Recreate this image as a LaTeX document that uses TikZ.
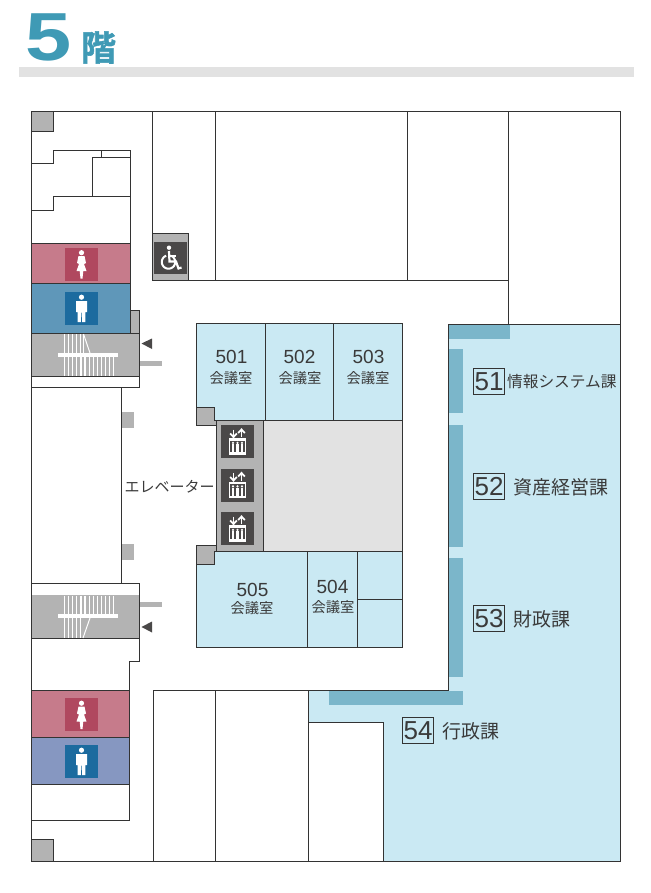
\documentclass[tikz,border=0pt]{standalone}
\usepackage{fontspec}
\usetikzlibrary{positioning}
\setmainfont{Liberation Sans}
\newfontfamily\jpfont{Noto Sans CJK JP}
\newfontfamily\jpheavy[FakeBold=1.5]{Noto Sans CJK JP Bold}
\definecolor{wallc}{HTML}{333333}
\definecolor{textc}{HTML}{3A3A3A}
\definecolor{titlec}{HTML}{3F9AB5}
\definecolor{barc}{HTML}{E2E2E2}
\definecolor{stairc}{HTML}{B3B3B3}
\definecolor{roomc}{HTML}{CAE9F3}
\definecolor{stripc}{HTML}{7BB6CA}
\definecolor{ladyc}{HTML}{C67B8B}
\definecolor{ladyboxc}{HTML}{B0485F}
\definecolor{mentopc}{HTML}{5F97B9}
\definecolor{menbotc}{HTML}{8697C1}
\definecolor{menboxc}{HTML}{1C6B9F}
\definecolor{iconc}{HTML}{4A4848}
\tikzset{
  wall/.style={draw=wallc,line width=1pt},
  roomnum/.style={inner sep=0pt,text=textc,font=\fontsize{19}{19}\selectfont},
  roomuse/.style={inner sep=0pt,text=textc,font=\jpfont\fontsize{14.3}{15}\selectfont},
  deptnum/.style={draw=wallc,line width=0.8pt,inner sep=0pt,text=textc,minimum width=31pt,minimum height=25.5pt,font=\fontsize{26}{26}\selectfont},
  deptname/.style={inner sep=0pt,text=textc,font=\jpfont\fontsize{19}{19}\selectfont},
  lady/.pic={
    \fill [ladyboxc] (-16.5,-16.5) rectangle (16.5,16.5);
    \fill [white] (0,-11.3) circle (2.6);
    \fill [white] (-3,-8) -- (3,-8) -- (4.5,-1) -- (2.5,0) -- (5,7) -- (1.8,7) -- (1,14.5) -- (-1,14.5) -- (-1.8,7) -- (-5,7) -- (-2.5,0) -- (-4.5,-1) -- cycle;
  },
  gent/.pic={
    \fill [menboxc] (-16.5,-16.5) rectangle (16.5,16.5);
    \fill [white] (0,-11.3) circle (2.6);
    \fill [white] (-5.5,-7.5) -- (5.5,-7.5) -- (5.5,3.5) -- (3.8,3.5) -- (3.8,13.5) -- (0.6,13.5) -- (0.4,4) -- (-0.4,4) -- (-0.6,13.5) -- (-3.8,13.5) -- (-3.8,3.5) -- (-5.5,3.5) -- cycle;
  },
  liftcar/.pic={
    \fill [iconc] (-16.5,-16.5) rectangle (16.5,16.5);
    \draw [white,line width=1.4pt] (-8,-2.5) rectangle (8,12.5);
    \fill [white] (-8,-3) rectangle (8,-0.8);
    \fill [white] (-8,10.5) rectangle (8,13);
    \foreach \px in {-4.5,0,4.5} {
      \fill [white] (\px,1.4) circle (1.2);
      \fill [white] (\px-1.4,2.6) rectangle (\px+1.4,10.5);
    }
    \draw [white,line width=1.8pt] (-4,-12) -- (-4,-5.5);
    \draw [white,line width=1.8pt] (-7.3,-8) -- (-4,-4.5) -- (-0.7,-8);
    \draw [white,line width=1.8pt] (4,-4.5) -- (4,-11);
    \draw [white,line width=1.8pt] (0.7,-8.5) -- (4,-12) -- (7.3,-8.5);
  },
  wheelseat/.pic={
    \fill [iconc] (-16.5,-16) rectangle (16.5,16);
    \fill [white] (-1.5,-10.3) circle (2.2);
    \draw [white,line width=2pt] plot [smooth,domain=-60:250,samples=30] ({-2+6.7*cos(\x)},{4+6.7*sin(\x)});
    \draw [white,line width=2.2pt] (-1.5,-7) -- (-1,3.5) -- (5.5,3.5) -- (8,10.5) -- (11,9.5);
    \draw [white,line width=1.8pt] (-1.2,-2) -- (5,-2);
  },
}
\begin{document}
\begin{tikzpicture}[x=1pt,y=-1pt]
\useasboundingbox (0,0) rectangle (650,893);
\node (fivechar) [inner sep=0pt,text=titlec] at (49,37.5) {\scalebox{1.22}[1]{\fontsize{68}{68}\selectfont\bfseries 5}};
\node (floorchar) [inner sep=0pt,text=titlec,font=\jpheavy\fontsize{35}{35}\selectfont] at (98.5,47.5) {階};
\fill [barc] (19,67) rectangle (634,77);

\fill [roomc] (448.5,324) -- (620,324) -- (620,861) -- (383.5,861) -- (383.5,722) -- (308.5,722) -- (308.5,690.5) -- (448.5,690.5) -- cycle;
\fill [stripc] (448.5,324.5) rectangle (510,339);
\fill [stripc] (449,349) rectangle (463,413);
\fill [stripc] (449,425) rectangle (463,547);
\fill [stripc] (449,558) rectangle (463,677);
\fill [stripc] (329,691) rectangle (463,705);

\draw [wall] (31.5,111.5) rectangle (620.5,861);

\draw [wall,fill=stairc] (31.5,111.5) rectangle (53.5,132);
\draw [wall] (31.5,163.5) -- (53.5,163.5) -- (53.5,150.5) -- (130.5,150.5) -- (130.5,243);
\draw [wall] (101.5,150.5) -- (101.5,158);
\draw [wall] (130.5,158) -- (92.5,158) -- (92.5,196.5);
\draw [wall] (130.5,196.5) -- (53.5,196.5) -- (53.5,211) -- (31.5,211);

\draw [wall,fill=ladyc] (31.5,243) rectangle (130.5,283.5);
\draw [wall,fill=mentopc] (31.5,283.5) rectangle (130.5,333);
\pic at (81.5,264) {lady};
\pic at (81.5,308.5) {gent};

\fill [stairc] (130.5,310) rectangle (139.5,333);
\fill [stairc] (31.5,333) rectangle (139.5,376.5);
\draw [wall] (130.5,310) -- (139.5,310) -- (139.5,387.5) -- (31.5,387.5);
\draw [wall] (31.5,333) -- (139.5,333);
\draw [wall] (31.5,376.5) -- (139.5,376.5);
\foreach \tx in {64.5,68.5,72.5,76.5,80.5,83.5}
  \draw [white,line width=1.2pt] (\tx,334) -- (\tx,353);
\foreach \tx in {64.5,68.6,...,114}
  \draw [white,line width=1.2pt] (\tx,357) -- (\tx,376);
\draw [white,line width=1pt] (83.5,334) -- (90,353);
\fill [white] (58,353.3) rectangle (118,357);
\fill [iconc] (141.5,343.5) -- (152,338.5) -- (152,349) -- cycle;
\fill [stairc] (139.5,361) rectangle (162,366);

\draw [wall] (121.5,387.5) -- (121.5,583.5);
\fill [stairc] (122,412) rectangle (134,428);
\fill [stairc] (122,544) rectangle (134,560);

\fill [stairc] (31.5,595) rectangle (139.5,638.5);
\draw [wall] (31.5,583.5) -- (139.5,583.5) -- (139.5,661) -- (129.5,661) -- (129.5,820) -- (31.5,820);
\draw [wall] (31.5,638.5) -- (139.5,638.5);
\foreach \tx in {64.5,68.6,...,114}
  \draw [white,line width=1.2pt] (\tx,595.5) -- (\tx,614);
\foreach \tx in {64.5,68.5,72.5,76.5,80.5}
  \draw [white,line width=1.2pt] (\tx,618) -- (\tx,638);
\draw [white,line width=1pt] (90,618) -- (83,638);
\fill [white] (58,614) rectangle (118,618);
\fill [iconc] (141.5,627) -- (152,621.5) -- (152,632.5) -- cycle;
\fill [stairc] (139.5,602) rectangle (162,607);

\draw [wall,fill=ladyc] (31.5,690.5) rectangle (129.5,737.5);
\draw [wall,fill=menbotc] (31.5,737.5) rectangle (129.5,784.5);
\pic at (81.5,714.5) {lady};
\pic at (81.5,761.5) {gent};
\draw [wall,fill=stairc] (31.5,839.5) rectangle (53.5,861);

\draw [wall] (152.5,111.5) -- (152.5,280) -- (508,280);
\draw [wall] (215.5,111.5) -- (215.5,280);
\draw [wall] (407.5,111.5) -- (407.5,280);
\draw [wall] (508,111.5) -- (508,324);
\draw [wall,fill=stairc] (152.5,234) rectangle (188.5,280);
\pic at (170.5,258) {wheelseat};

\draw [wall] (620.5,324) -- (448.5,324) -- (448.5,690.5) -- (153,690.5) -- (153,861);
\draw [wall] (215.5,690.5) -- (215.5,861);
\draw [wall] (308.5,690.5) -- (308.5,861);
\draw [wall] (308.5,722) -- (383.5,722) -- (383.5,861);

\draw [wall,fill=roomc] (196.5,323.5) rectangle (265.5,420.5);
\draw [wall,fill=roomc] (265.5,323.5) rectangle (333.5,420.5);
\draw [wall,fill=roomc] (333.5,323.5) rectangle (402.5,420.5);
\draw [wall,fill=barc] (263.5,420.5) rectangle (402.5,551);
\draw [wall,fill=stairc] (216.5,420.5) rectangle (263.5,551);
\draw [wall,fill=roomc] (196.5,551) rectangle (307.5,647.5);
\draw [wall,fill=roomc] (307.5,551) rectangle (357.5,647.5);
\draw [wall,fill=roomc] (357.5,551) rectangle (402.5,599.5);
\draw [wall,fill=roomc] (357.5,599.5) rectangle (402.5,647.5);
\draw [wall,fill=stairc] (196.5,407.5) -- (214.5,407.5) -- (214.5,420.5) -- (216.5,420.5) -- (216.5,425) -- (196.5,425) -- cycle;
\draw [wall,fill=stairc] (216.5,545) -- (216.5,551) -- (214.5,551) -- (214.5,564.5) -- (196.5,564.5) -- (196.5,545) -- cycle;
\pic at (237.5,441.5) {liftcar};
\pic at (237.5,485) {liftcar};
\pic at (237.5,528.5) {liftcar};

\node (r501) [roomnum] at (231.5,357) {501};
\node (r502) [roomnum] at (299.5,357) {502};
\node (r503) [roomnum] at (368.5,357) {503};
\node (r504) [roomnum] at (332.5,587) {504};
\node (r505) [roomnum] at (252.5,589.5) {505};
\node (u501) [roomuse] at (231,378) {会議室};
\node (u502) [roomuse] at (300,378) {会議室};
\node (u503) [roomuse] at (368,378) {会議室};
\node (u504) [roomuse] at (333,607) {会議室};
\node (u505) [roomuse] at (252,608) {会議室};
\node (liftname) [roomuse,font=\jpfont\fontsize{15}{15}\selectfont] at (169.5,486.5) {エレベーター};

\node (d51) [deptnum] at (489,381.5) {51};
\node (d52) [deptnum] at (489,486.5) {52};
\node (d53) [deptnum] at (489,618.5) {53};
\node (d54) [deptnum] at (418,730.5) {54};
\node (n51) [deptname,font=\jpfont\fontsize{15.7}{16}\selectfont,right=2pt of d51] {情報システム課};
\node (n52) [deptname,right=8pt of d52,yshift=-1pt] {資産経営課};
\node (n53) [deptname,right=8pt of d53,yshift=-1pt] {財政課};
\node (n54) [deptname,right=8.5pt of d54,yshift=-1pt] {行政課};
\end{tikzpicture}
\end{document}
